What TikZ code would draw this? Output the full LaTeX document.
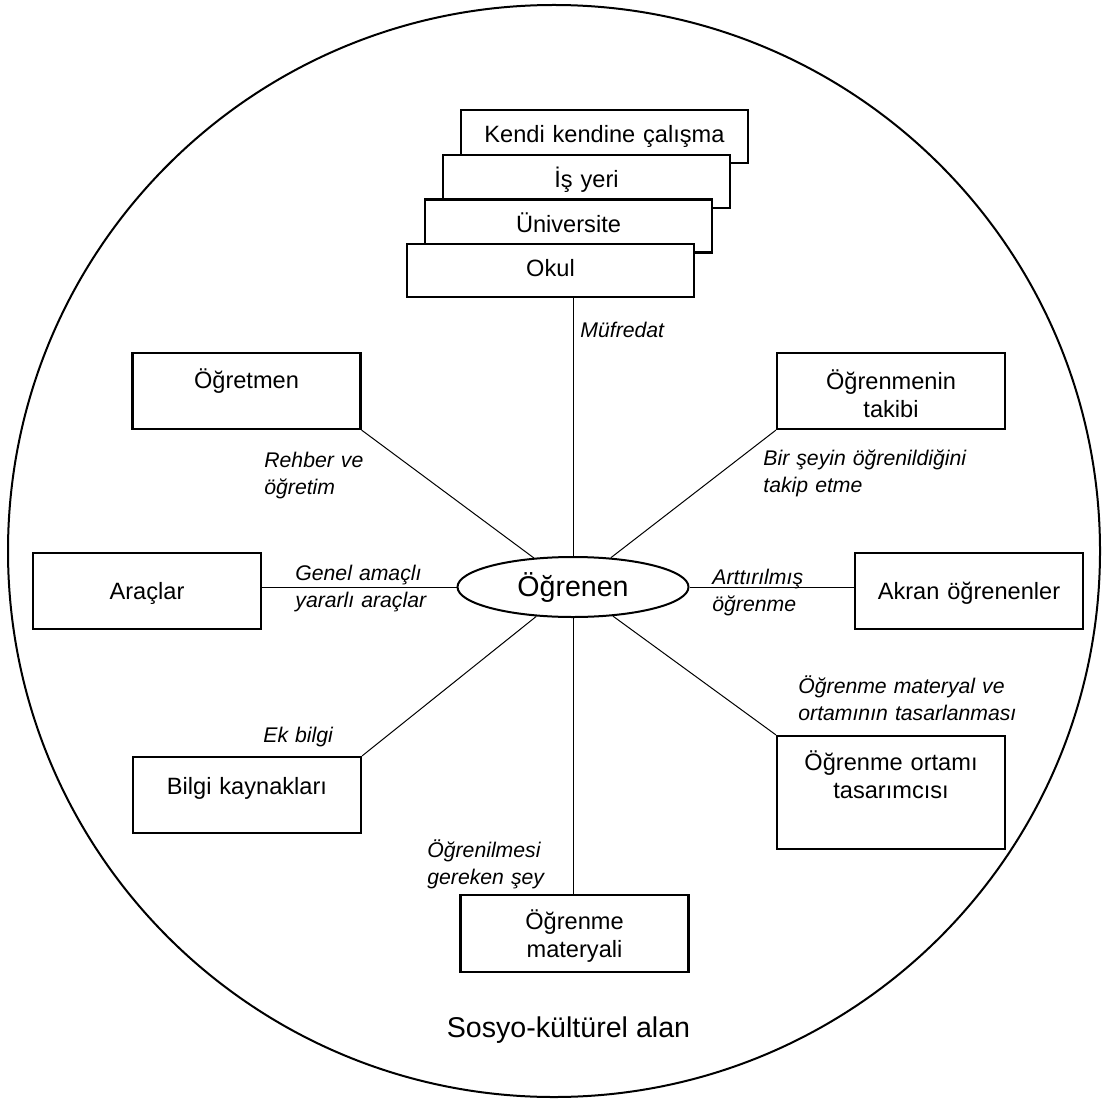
\documentclass[tikz,border=0pt]{standalone}
\usepackage{fontspec}
\setmainfont{Liberation Sans}
\usetikzlibrary{shapes.geometric}

\tikzset{
  kutu/.style 2 args={draw, line width=1.1pt, fill=white, inner sep=0pt,
    text width=114pt, align=center, text height=#1, text depth=#2,
    font=\fontsize{11.8}{14}\selectfont},
  etiket/.style={anchor=base west, inner sep=0pt, text width=130pt, align=left,
    font=\fontsize{10.6}{13.5}\selectfont\itshape},
  ince/.style={line width=0.5pt}
}

\begin{document}
\begin{tikzpicture}[x=0.5pt,y=-0.5pt]
      \fill[white] (0,0) rectangle (1106,1101);
      \useasboundingbox (0,0) rectangle (1106,1101);
      \draw[line width=1pt] (554,551) circle [radius=273pt];
      % stacked boxes, back to front
      \draw
        (604.5,136.5) node[kutu={16.5pt}{10pt}, text width=143.5pt] (kendi){Kendi kendine çalışma}
        (586.5,181.5) node[kutu={16.5pt}{10pt}, text width=143.5pt] (isyeri){İş yeri}
        (568.5,226) node[kutu={16.5pt}{10pt}, text width=143.5pt] (universite){Üniversite}
        (550.5,270.5) node[kutu={16.5pt}{10pt}, text width=143.5pt] (okul){Okul};
      \draw
        (573,587) node[ellipse, draw, line width=1pt, minimum width=115.5pt, minimum height=30pt,
          inner sep=0pt, font=\fontsize{14.3}{17}\selectfont] (ogrenen){Öğrenen}
        (246.5,391) node[kutu={17.5pt}{20.5pt}] (ogretmen){Öğretmen}
        (891,391) node[kutu={18pt}{20pt}] (takip){Öğrenmenin\\takibi}
        (147,591) node[kutu={23pt}{15pt}] (araclar){Araçlar}
        (969,591) node[kutu={23pt}{15pt}] (akran){Akran öğrenenler}
        (247,795) node[kutu={18.5pt}{19.5pt}] (bilgi){Bilgi kaynakları}
        (891,792.5) node[kutu={17pt}{39.5pt}] (tasarimci){Öğrenme ortamı\\tasarımcısı}
        (574.5,933.5) node[kutu={17pt}{21.5pt}] (materyal){Öğrenme\\materyali};
      \begin{scope}[ince]
        \draw (ogrenen.north |- okul.south) to (ogrenen.north);
        \draw (ogretmen.south east) to (ogrenen);
        \draw (takip.south west) to (ogrenen);
        \draw (ogrenen.west -| araclar.east) to (ogrenen.west);
        \draw (ogrenen.east) to (ogrenen.east -| akran.west);
        \draw (bilgi.north east) to (ogrenen);
        \draw (tasarimci.north west) to (ogrenen);
        \draw (ogrenen.south) to (ogrenen.south |- materyal.north);
      \end{scope}
      % labels on the lines
      \node[etiket] (mufredat) at (580,337) {Müfredat};
      \node[etiket] (rehber) at (264,467) {Rehber ve\\öğretim};
      \node[etiket] (takipetme) at (763,465) {Bir şeyin öğrenildiğini\\takip etme};
      \node[etiket] (genel) at (295,580) {Genel amaçlı\\yararlı araçlar};
      \node[etiket] (arttirilmis) at (712,584) {Arttırılmış\\öğrenme};
      \node[etiket] (ekbilgi) at (263,742) {Ek bilgi};
      \node[etiket] (tasarlanma) at (798,693) {Öğrenme materyal ve\\ortamının tasarlanması};
      \node[etiket] (ogrenilmesi) at (427,857) {Öğrenilmesi\\gereken şey};
      \node[anchor=base, font=\fontsize{14.3}{17}\selectfont] (alan) at (568.5,1037) {Sosyo-kültürel alan};
    \end{tikzpicture}
\end{document}
